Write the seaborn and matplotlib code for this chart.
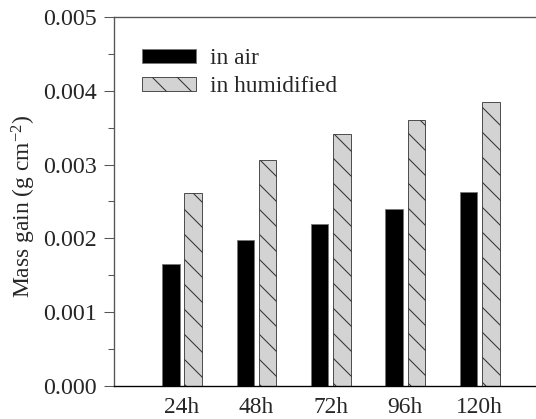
import numpy as np
import pandas as pd
import matplotlib
matplotlib.use("Agg")
import matplotlib.pyplot as plt
import matplotlib.ticker as mticker
import seaborn as sns

# ── Data ─────────────────────────────────────────────────────────────────────
TIMES = ["24h", "48h", "72h", "96h", "120h"]
CONDITIONS = ["in air", "in humidified"]
MASS_AIR = [0.00165, 0.00198, 0.00220, 0.00240, 0.00263]
MASS_HUMID = [0.00262, 0.00306, 0.00342, 0.00360, 0.00385]

df = pd.DataFrame({
    "time": TIMES * 2,
    "condition": [CONDITIONS[0]] * len(TIMES) + [CONDITIONS[1]] * len(TIMES),
    "mass_gain": MASS_AIR + MASS_HUMID,
})

# ── Style ────────────────────────────────────────────────────────────────────
sns.set_style("ticks")
plt.rcParams["font.family"] = ["Liberation Serif", "DejaVu Serif"]
plt.rcParams["mathtext.fontset"] = "custom"
plt.rcParams["mathtext.rm"] = "Liberation Serif"
plt.rcParams["mathtext.it"] = "Liberation Serif:italic"
plt.rcParams["hatch.linewidth"] = 1.0
plt.rcParams["hatch.color"] = "black"

FS = 22.5
DPI = 75  # 75 dpi gives the hatch spacing of the reference
fig = plt.figure(figsize=(536 / DPI, 419 / DPI), dpi=DPI)
ax = fig.add_axes([0.2127, 0.0788, 0.821, 0.8807])

sns.barplot(
    data=df, x="time", y="mass_gain", hue="condition",
    palette=["black", "#d3d3d3"], width=0.6, gap=0.22,
    errorbar=None, legend=False, ax=ax,
)

for bar in ax.containers[0]:
    bar.set_edgecolor("#777777")
    bar.set_linewidth(0.8)
for bar in ax.containers[1]:
    bar.set_hatch("\\")
    bar.set_edgecolor("#333333")
    bar.set_linewidth(0.8)

ax.set_xlim(-0.914, 5.0)
ax.set_ylim(0, 0.005)
ax.yaxis.set_major_locator(mticker.MultipleLocator(0.001))
ax.yaxis.set_minor_locator(mticker.AutoMinorLocator(2))
ax.yaxis.set_major_formatter(mticker.FormatStrFormatter("%.3f"))

ax.tick_params(axis="y", which="major", direction="out", length=9.6, width=1.0,
               pad=6.5, labelsize=23, color="#555555")
ax.tick_params(axis="y", which="minor", direction="out", length=5.8, width=1.0,
               color="#555555")
ax.tick_params(axis="x", length=0, pad=11, labelsize=FS)

ax.set_xlabel("")
ax.set_ylabel("Mass gain (g cm$^{-2}$)", fontsize=FS)
ax.yaxis.set_label_coords(-0.173, 0.487)

for side in ["left", "top"]:
    ax.spines[side].set_color("#555555")
    ax.spines[side].set_linewidth(1.3)
ax.spines["bottom"].set_color("black")
ax.spines["bottom"].set_linewidth(1.3)
ax.spines["right"].set_visible(False)

ax.legend(
    handles=[ax.containers[0][0], ax.containers[1][0]], labels=CONDITIONS,
    loc="upper left", bbox_to_anchor=(0.064, 0.915), frameon=False,
    fontsize=FS, handlelength=2.3, handleheight=0.5, handletextpad=0.6,
    labelspacing=0.3, borderpad=0, borderaxespad=0,
)

fig.savefig("out.png", dpi=DPI)
